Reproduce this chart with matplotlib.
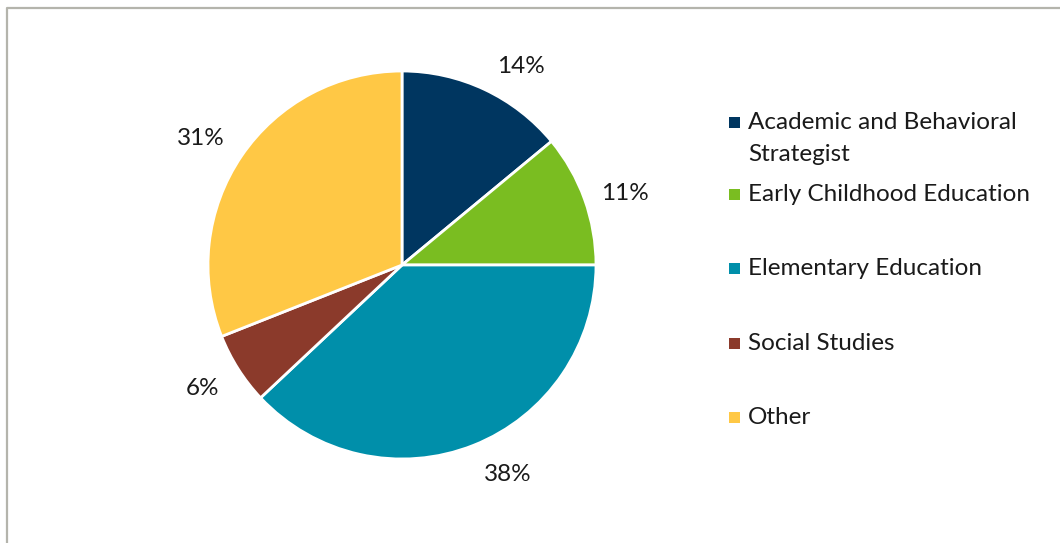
import matplotlib.pyplot as plt
from matplotlib.lines import Line2D
from matplotlib.patches import Rectangle
from matplotlib.transforms import offset_copy

labels = ['Academic and Behavioral\nStrategist', 'Early Childhood Education',
          'Elementary Education', 'Social Studies', 'Other']
shares = [14, 11, 38, 6, 31]
colors = ['#003660', '#7abd21', '#008faa', '#8b3a2b', '#ffc845']

# nudges (px, right / down) that mimic Excel's "best fit" label placement
nudge = [(19, 12), (2, 7), (19, -10), (-1, -4), (-7, 4)]

plt.rcParams['font.family'] = ['Lato', 'DejaVu Sans']
FS = 17.5
TXT = '#1a1a1a'

W, H = 1060, 543
fig = plt.figure(figsize=(W / 100, H / 100), dpi=100)

# grey frame (only left and top visible)
fig.add_artist(Line2D([7 / W, 7 / W, 1], [0, 1 - 8 / H, 1 - 8 / H],
                      color='#b4b4ac', lw=1.6))

cx, cy, r = 402, 265, 194
ax = fig.add_axes([(cx - r) / W, (H - cy - r) / H, 2 * r / W, 2 * r / H])
wedges, texts = ax.pie(shares, colors=colors, startangle=90, counterclock=False,
                       labels=[f'{v}%' for v in shares], labeldistance=1.21,
                       wedgeprops=dict(edgecolor='white', linewidth=2),
                       textprops=dict(fontsize=FS, color=TXT))
ax.set_xlim(-1, 1)
ax.set_ylim(-1, 1)
ax.set_aspect('equal')
ax.axis('off')
for t, (dx, dy) in zip(texts, nudge):
    t.set_ha('center')
    t.set_va('baseline')
    t.set_transform(offset_copy(t.get_transform(), fig, x=dx, y=-(dy + 8), units='dots'))

# legend
ys = [122, 194, 268, 343, 417]
for lab, col, y in zip(labels, colors, ys):
    fig.add_artist(Rectangle((729 / W, 1 - (y + 5.5) / H), 11 / W, 11 / H,
                             color=col, transform=fig.transFigure, lw=0))
    for i, line in enumerate(lab.split('\n')):
        fig.text(748 / W, 1 - (y + 7 + 32 * i) / H, line, ha='left', va='baseline',
                 fontsize=FS, color=TXT)

fig.savefig('out.png', dpi=100)
